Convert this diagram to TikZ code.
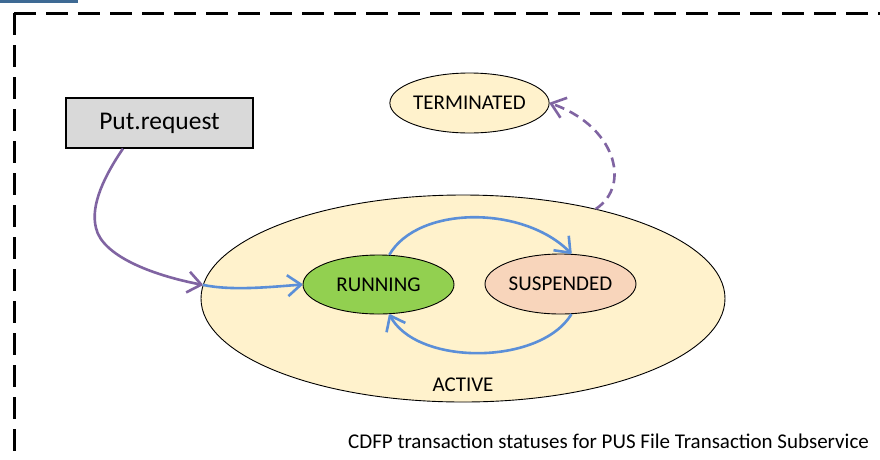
\documentclass[tikz,border=0pt]{standalone}
\usepackage{fontspec}
\setmainfont{Carlito}
\usetikzlibrary{arrows.meta,shapes.geometric}

\definecolor{framebar}{HTML}{3E6A94}
\definecolor{boxgray}{HTML}{D9D9D9}
\definecolor{stateyellow}{HTML}{FFF2CC}
\definecolor{rungreen}{HTML}{92D050}
\definecolor{suspeach}{HTML}{F8D5BB}
\definecolor{flowblue}{HTML}{5B8FD8}
\definecolor{flowpurple}{HTML}{8064A2}

% open arrow head made of two straight arms
\pgfdeclarearrow{
  name = OpenVee,
  parameters = {\the\pgfarrowlength,\the\pgfarrowwidth},
  setup code = {
    \pgfarrowssettipend{0pt}
    \pgfarrowssetlineend{-0.5\pgflinewidth}
    \pgfarrowshullpoint{0pt}{0pt}
    \pgfarrowshullpoint{-\pgfarrowlength}{.5\pgfarrowwidth}
    \pgfarrowshullpoint{-\pgfarrowlength}{-.5\pgfarrowwidth}
    \pgfarrowssavethe\pgfarrowlength
    \pgfarrowssavethe\pgfarrowwidth
  },
  drawing code = {
    \pgfsetdash{}{0pt}
    \pgfsetroundjoin
    \pgfsetbuttcap
    \pgfpathmoveto{\pgfpoint{-\pgfarrowlength}{.5\pgfarrowwidth}}
    \pgfpathlineto{\pgfpoint{-0.6\pgflinewidth}{0pt}}
    \pgfpathlineto{\pgfpoint{-\pgfarrowlength}{-.5\pgfarrowwidth}}
    \pgfusepathqstroke
  },
  defaults = {length = 15pt, width = 20pt}
}

\tikzset{
  statetext/.style={font=\fontsize{21}{25}\selectfont},
  stateshape/.style={ellipse, draw=black, line width=0.9pt, inner sep=0pt, statetext},
  barb/.style={-{OpenVee[length=15pt,width=21pt]}},
  blueflow/.style={draw=flowblue, line width=2.6pt, barb},
  purpleflow/.style={draw=flowpurple, line width=2.6pt, barb},
  framedash/.style={draw=black, line width=3pt, dash pattern=on 22pt off 10pt},
}

\begin{document}
\begin{tikzpicture}[x=1pt,y=-1pt]
  \useasboundingbox (0,0) rectangle (880,459);
  \fill[white] (0,0) rectangle (880,459);

  % header tab and dashed boundary
  \fill[framebar] (0,0) rectangle (78,2.5);
  \draw[framedash] (14,13) -- (14,470);
  \draw[framedash] (14,13) -- (890,13);

  % states
  \node[stateshape, fill=stateyellow, minimum width=524pt, minimum height=207pt] (active) at (463,298.5) {};
  \node[statetext] (activelbl) at (463,385) {ACTIVE};
  \node[stateshape, fill=stateyellow, minimum width=151pt, minimum height=60pt] (term) at (469.5,103) {TERMINATED};
  \node[stateshape, fill=rungreen, minimum width=151pt, minimum height=59pt] (run) at (378.5,284.5) {RUNNING};
  \node[stateshape, fill=suspeach, minimum width=151pt, minimum height=60pt] (susp) at (560.5,284) {SUSPENDED};

  % request box
  \node[draw=black, line width=1.2pt, fill=boxgray, minimum width=187pt, minimum height=50pt,
        inner sep=0pt, font=\fontsize{25.5}{30}\selectfont] (put) at (159.5,123) {Put.request};

  % transitions
  \draw[purpleflow] ([xshift=-36.5pt]put.south)
     .. controls (105,175) and (90,205) .. (96,228)
     .. controls (102,255) and (150,275) .. (active.177);
  \draw[blueflow] (active.177) .. controls (232,291) and (270,287) .. (run.west);
  \draw[blueflow] (run.70) .. controls (418,205) and (525,205) .. (susp.70);
  \draw[blueflow] (susp.-70) .. controls (540,366) and (415,366) .. (run.-70);
  \draw[purpleflow, dash pattern=on 10pt off 6pt] (active.34)
     .. controls (632,185) and (615,125) .. (term.east);

  % caption
  \node[anchor=west, statetext, inner sep=0pt] (caption) at (348,441) {CDFP transaction statuses for PUS File Transaction Subservice};
\end{tikzpicture}
\end{document}
